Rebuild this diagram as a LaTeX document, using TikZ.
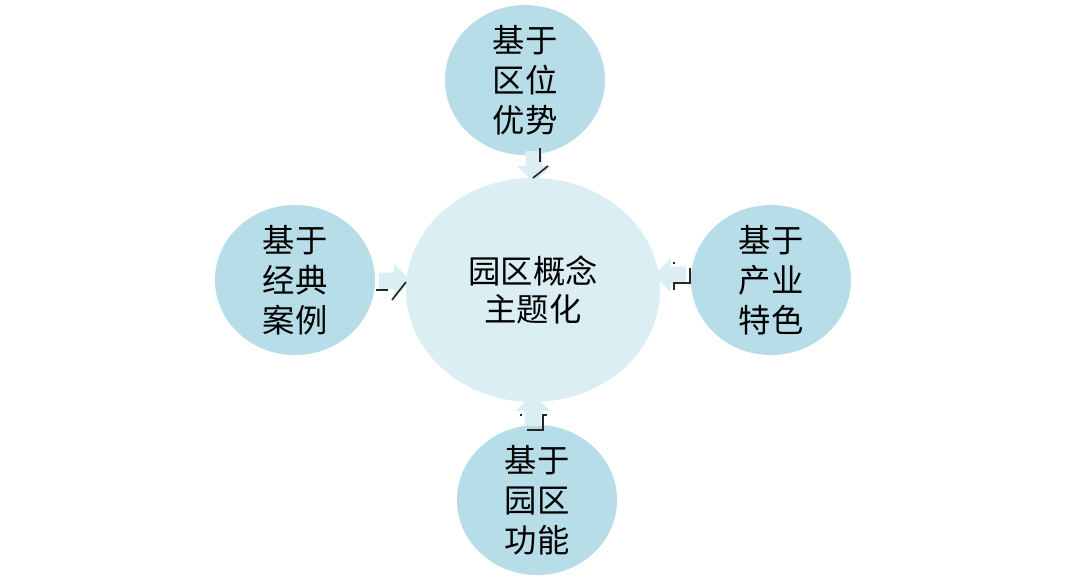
\documentclass[tikz,border=0pt]{standalone}
\usepackage{fontspec}
\setmainfont{Noto Sans CJK SC}
\usepackage{xcolor}
\usepackage{tikz}
\usetikzlibrary{shapes.geometric,shapes.arrows}

\definecolor{petal}{HTML}{B7DDE8}
\definecolor{core}{HTML}{DAEEF3}

\begin{document}
\begin{tikzpicture}[x=0.025cm, y=-0.025cm,
    every node/.style={font=\fontsize{23}{28.5}\selectfont, align=center}]
  \def\pw{4cm}
  \def\ph{3.75cm}
  \tikzset{
    petalnode/.style={ellipse, fill=petal, inner sep=0pt, minimum width=\pw, minimum height=\ph},
    blockarrow/.style={single arrow, fill=core, inner sep=0.2cm,
      minimum height=0.8cm, single arrow head extend=0.22cm},
    arrowedge/.style={line width=1.2pt, black!85}
  }
  \useasboundingbox (0,0) rectangle (1080,581);

  \node[ellipse, fill=core, minimum width=6.35cm, minimum height=5.6cm,
        font=\fontsize{23}{27}\selectfont] (theme) at (533,290)
        {园区概念\\主题化};

  \node[petalnode, label={center:基于\\区位\\优势}] (loc)  at (525,80)  {};
  \node[petalnode, label={center:基于\\经典\\案例}] (case) at (295,280) {};
  \node[petalnode, label={center:基于\\产业\\特色}] (ind)  at (771,280) {};
  \node[petalnode, label={center:基于\\园区\\功能}] (func) at (537,500) {};

  % block arrows into the centre
  \node[blockarrow, shape border rotate=270] (a1) at (534,163) {};
  \node[blockarrow, shape border rotate=0]   (a2) at (391,281) {};
  \node[blockarrow, shape border rotate=180] (a3) at (674,275) {};
  \node[blockarrow, shape border rotate=90]  (a4) at (533,414) {};

  % dark edges left on the arrows
  \draw[arrowedge] (a1.center) ++(6,-15) -- ++(0,14);
  \draw[arrowedge] (a1.center) ++(14,3) -- ++(-15,12);
  \draw[arrowedge] (a2.center) ++(-15,9) -- ++(12,0);
  \draw[arrowedge] (a2.center) ++(1,19) -- ++(14,-18);
  \draw[arrowedge] (a3.center) ++(0,-13) -- ++(0,2);
  \draw[arrowedge] (a3.center) ++(16,-7) -- ++(0,15) -- ++(-16,0) -- ++(0,7);
  \draw[arrowedge] (a4.center) ++(-13,1) -- ++(2,0);
  \draw[arrowedge] (a4.center) ++(14,1) -- ++(-4,0) -- ++(0,15) -- ++(-16,0);
\end{tikzpicture}
\end{document}
